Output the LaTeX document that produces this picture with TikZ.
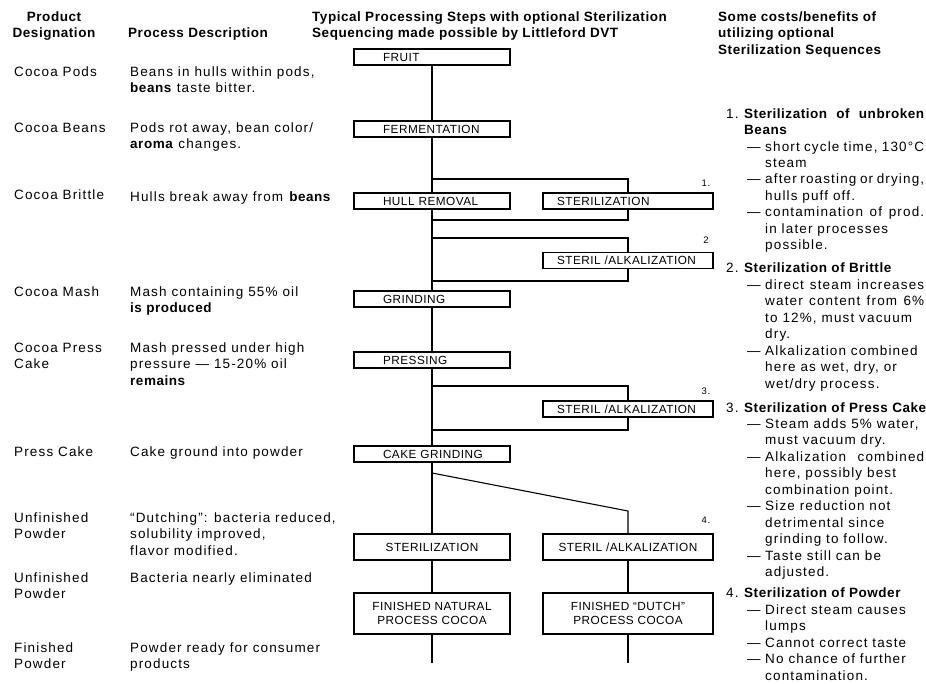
\documentclass[tikz,border=0pt]{standalone}
\usepackage{fontspec}
\setmainfont{Liberation Sans}[LetterSpace=8.5, BoldFeatures={LetterSpace=4}]
\newfontfamily\boxfamily{Liberation Sans}[LetterSpace=4]
\newcommand\bodyfont{\fontsize{13.5}{16.4}\selectfont}
\newcommand\rightfont{\fontsize{13.5}{16.45}\selectfont}
\newcommand\boxfont{\boxfamily\fontsize{11.8}{14.5}\selectfont}
\newcommand\RInd{\hspace*{18pt}}
\newcommand\RDash{\hspace*{21pt}\makebox[18pt][l]{—}}
\newcommand\RCont{\hspace*{39pt}}
\newcommand\RJ[2]{\makebox[#1][s]{#2}}
\tikzset{
  txt/.style={anchor=base west, inner sep=0pt, align=left, font=\bodyfont},
  rtxt/.style={txt, font=\rightfont},
  lbox/.style={draw, line width=1.1pt, minimum width=156pt, minimum height=16pt, inner xsep=0pt, inner ysep=0pt, font=\boxfont},
  rbox/.style={lbox, minimum width=170pt},
  conn/.style={line width=1.1pt},
  numlab/.style={inner sep=0pt, font=\fontsize{9.5}{11}\selectfont}
}
\begin{document}
\begin{tikzpicture}[x=1pt,y=-1pt]
\useasboundingbox (0,0) rectangle (926,683);
% headers (multi-line nodes: base = last line)
\node[txt, align=center, anchor=base, font=\bodyfont\bfseries] (h1) at (54,37.5) {Product\\Designation};
\node[txt, font=\bodyfont\bfseries] (h2) at (128,37.5) {Process Description};
\node[txt, font=\bodyfont\bfseries] (h3) at (312,37.5) {Typical Processing Steps with optional Sterilization\\Sequencing made possible by Littleford DVT};
\node[txt, font=\bodyfont\bfseries] (h4) at (718,54.3) {Some costs/benefits of\\utilizing optional\\Sterilization Sequences};
% product designation
\node[txt] (p1) at (14,76.5) {Cocoa Pods};
\node[txt] (p2) at (14,132.5) {Cocoa Beans};
\node[txt] (p3) at (14,199.5) {Cocoa Brittle};
\node[txt] (p4) at (14,296) {Cocoa Mash};
\node[txt] (p5) at (14,368.9) {Cocoa Press\\Cake};
\node[txt] (p6) at (14,456.5) {Press Cake};
\node[txt] (p7) at (14,538.9) {Unfinished\\Powder};
\node[txt] (p8) at (14,598.9) {Unfinished\\Powder};
\node[txt] (p9) at (14,668.9) {Finished\\Powder};
% process descriptions
\node[txt] (d1) at (130,92.9) {Beans in hulls within pods,\\\textbf{beans} taste bitter.};
\node[txt] (d2) at (130,148.9) {Pods rot away, bean color/\\\textbf{aroma} changes.};
\node[txt] (d3) at (130,201) {Hulls break away from \textbf{beans}};
\node[txt] (d4) at (130,312.9) {Mash containing 55\% oil\\\textbf{is produced}};
\node[txt] (d5) at (130,385.3) {Mash pressed under high\\pressure — 15-20\% oil\\\textbf{remains}};
\node[txt] (d6) at (130,456.5) {Cake ground into powder};
\node[txt] (d7) at (130,555.3) {“Dutching”: bacteria reduced,\\solubility improved,\\flavor modified.};
\node[txt] (d8) at (130,582.5) {Bacteria nearly eliminated};
\node[txt] (d9) at (130,668.9) {Powder ready for consumer\\products};
% main boxes
\node[lbox, text width=156pt, align=left] (fruit) at (432,57) {\hspace*{29pt}FRUIT};
\node[lbox, text width=156pt, align=left] (ferm) at (432,129) {\hspace*{29pt}FERMENTATION};
\node[lbox, text width=156pt, align=left] (hull) at (432,201) {\hspace*{29pt}HULL REMOVAL};
\node[lbox, text width=156pt, align=left] (grind) at (432,299) {\hspace*{29pt}GRINDING};
\node[lbox, text width=156pt, align=left] (press) at (432,360) {\hspace*{29pt}PRESSING};
\node[lbox, text width=156pt, align=left] (cake) at (432,454) {\hspace*{29pt}CAKE GRINDING};
\node[lbox, minimum height=26pt] (ster) at (432,547) {STERILIZATION};
\node[lbox, minimum height=41pt, align=center, font=\boxfamily\fontsize{11.8}{13.5}\selectfont] (fnat) at (432,613.5) {FINISHED NATURAL\\PROCESS COCOA};
% right boxes
\node[rbox, text width=170pt, align=left] (s1) at (628,201) {\hspace*{14pt}STERILIZATION};
\node[rbox, text width=170pt, align=left] (s2) at (628,260.5) {\hspace*{14pt}STERIL /ALKALIZATION};
\node[rbox, text width=170pt, align=left] (s3) at (628,409) {\hspace*{14pt}STERIL /ALKALIZATION};
\node[rbox, minimum height=26pt] (s4) at (628,547) {STERIL /ALKALIZATION};
\node[rbox, minimum height=41pt, align=center, font=\boxfamily\fontsize{11.8}{13.5}\selectfont] (fdut) at (628,613.5) {FINISHED “DUTCH”\\PROCESS COCOA};
% labels
\node[numlab] (l1) at (706,183) {1.};
\node[numlab] (l2) at (706,240) {2};
\node[numlab] (l3) at (706,391) {3.};
\node[numlab] (l4) at (706,520) {4.};
% coordinates
\coordinate (j1t) at (432,179); \coordinate (b1t) at (628,179);
\coordinate (j1b) at (432,220); \coordinate (b1b) at (628,220);
\coordinate (j2t) at (432,238); \coordinate (b2t) at (628,238);
\coordinate (j2b) at (432,281); \coordinate (b2b) at (628,281);
\coordinate (j3t) at (432,386); \coordinate (b3t) at (628,386);
\coordinate (j3b) at (432,430); \coordinate (b3b) at (628,430);
\coordinate (j4) at (432,473); \coordinate (b4) at (628,511);
\coordinate (endA) at (432,663); \coordinate (endB) at (628,663);
% main line
\draw[conn] (fruit) -- (ferm);
\draw[conn] (ferm) -- (hull);
\draw[conn] (hull) -- (grind);
\draw[conn] (grind) -- (press);
\draw[conn] (press) -- (cake);
\draw[conn] (cake) -- (ster);
\draw[conn] (ster) -- (fnat);
\draw[conn] (fnat) -- (endA);
% loops
\draw[conn] (j1t) -- (b1t) -- (s1.north);
\draw[conn] (s1.south) -- (b1b) -- (j1b);
\draw[conn] (j2t) -- (b2t) -- (s2.north);
\draw[conn] (s2.south) -- (b2b) -- (j2b);
\draw[conn] (j3t) -- (b3t) -- (s3.north);
\draw[conn] (s3.south) -- (b3b) -- (j3b);
\draw[conn] (j4) -- (b4) -- (s4.north);
\draw[conn] (s4) -- (fdut);
\draw[conn] (fdut) -- (endB);
% right column
\node[rtxt] (r1) at (726,249.7) {\makebox[18pt][l]{1.}\textbf{\RJ{180pt}{Sterilization of unbroken}}\\
\RInd\textbf{Beans}\\
\RDash\RJ{159pt}{short cycle time, 130°C}\\
\RCont steam\\
\RDash\RJ{159pt}{after roasting or drying,}\\
\RCont hulls puff off.\\
\RDash\RJ{159pt}{contamination of prod.}\\
\RCont in later processes\\
\RCont possible.};
\node[rtxt] (r2) at (726,388) {\makebox[18pt][l]{2.}\textbf{Sterilization of Brittle}\\
\RDash\RJ{159pt}{direct steam increases}\\
\RCont\RJ{159pt}{water content from 6\%}\\
\RCont to 12\%, must vacuum\\
\RCont dry.\\
\RDash Alkalization combined\\
\RCont here as wet, dry, or\\
\RCont wet/dry process.};
\node[rtxt] (r3) at (726,576.5) {\makebox[18pt][l]{3.}\textbf{Sterilization of Press Cake}\\
\RDash Steam adds 5\% water,\\
\RCont must vacuum dry.\\
\RDash\RJ{159pt}{Alkalization combined}\\
\RCont here, possibly best\\
\RCont combination point.\\
\RDash Size reduction not\\
\RCont detrimental since\\
\RCont grinding to follow.\\
\RDash Taste still can be\\
\RCont adjusted.};
\node[rtxt] (r4) at (726,680) {\makebox[18pt][l]{4.}\textbf{Sterilization of Powder}\\
\RDash Direct steam causes\\
\RCont lumps\\
\RDash Cannot correct taste\\
\RDash No chance of further\\
\RCont contamination.};
\end{tikzpicture}
\end{document}
